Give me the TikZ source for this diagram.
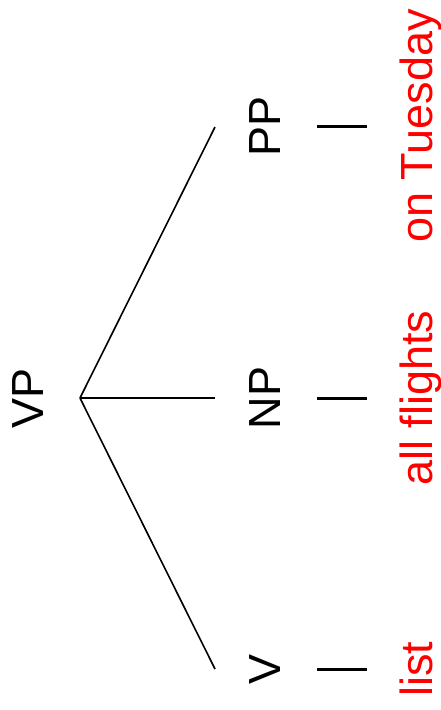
\documentclass[tikz,border=0pt]{standalone}
\usepackage{fontspec}
\setmainfont{Liberation Sans}
\usepackage{tikz}
\usetikzlibrary{positioning, calc}
\definecolor{wordred}{HTML}{FF0000}

\begin{document}
\begin{tikzpicture}[
  x=1pt, y=1pt,
  cat/.style={rotate=90, anchor=base, inner sep=0pt, font=\fontsize{45}{54}\selectfont},
  word/.style={cat, text=wordred},
  branch/.style={line width=1.6pt, black},
  tie/.style={line width=3pt, black},
]
\useasboundingbox (0,0) rectangle (441,-710);

% Categories
\node[cat] (vp) at (43,-398) {VP};
\node[cat] (pp) at (280,-126) {PP};
\node[cat] (np) at (280,-398) {NP};
\node[cat] (v) at (280,-669) {V};

% Words
\node[word] (ontue) at (432,-126) {on Tuesday};
\node[word] (flights) at (432,-398) {all flights};
\node[word] (list) at (432,-669) {list};

% Branch points
\coordinate (root) at (80,-398);
\coordinate (pp-in) at (215,-127);
\coordinate (np-in) at (215,-398);
\coordinate (v-in) at (215,-669);

\foreach \c in {pp-in, np-in, v-in} {
  \draw[branch] (root) -- (\c);
}

% Lexical ties
\draw[tie] ([xshift=37pt]pp.south) -- ([xshift=-32pt]ontue.north |- pp.south);
\draw[tie] ([xshift=37pt]np.south) -- ([xshift=-32pt]flights.north |- np.south);
\draw[tie] ([xshift=37pt]v.south) -- ([xshift=-32pt]list.north |- v.south);

\end{tikzpicture}
\end{document}
